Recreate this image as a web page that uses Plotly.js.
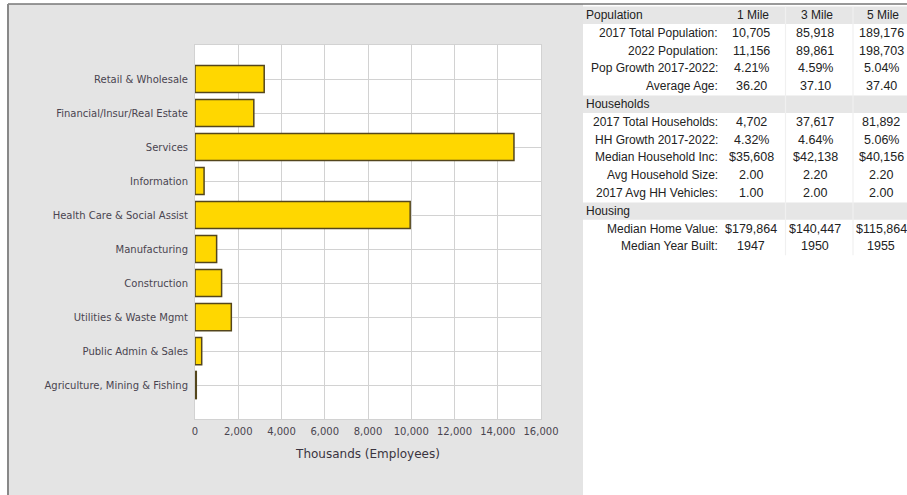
<!DOCTYPE html>
<html>
<head>
<meta charset="utf-8">
<script src="https://cdn.plot.ly/plotly-3.0.1.min.js"></script>
<style>html,body{margin:0;padding:0;background:#fff;}#chart{width:907px;height:495px;}</style>
</head>
<body>
<div id="chart"></div>
<script>
// ---- Bar chart data ----
const industries = [
  "Retail & Wholesale",
  "Financial/Insur/Real Estate",
  "Services",
  "Information",
  "Health Care & Social Assist",
  "Manufacturing",
  "Construction",
  "Utilities & Waste Mgmt",
  "Public Admin & Sales",
  "Agriculture, Mining & Fishing"
];
const employees = [3200, 2720, 14750, 420, 9950, 1000, 1230, 1680, 310, 60];
const xTickValues = [0, 2000, 4000, 6000, 8000, 10000, 12000, 14000, 16000];
const xAxisTitle = "Thousands (Employees)";

// ---- Table data ----
const tableHeaders = ["1 Mile", "3 Mile", "5 Mile"];
const tableLabels = [
  "Population",
  "2017 Total Population:",
  "2022 Population:",
  "Pop Growth 2017-2022:",
  "Average Age:",
  "Households",
  "2017 Total Households:",
  "HH Growth 2017-2022:",
  "Median Household Inc:",
  "Avg Household Size:",
  "2017 Avg HH Vehicles:",
  "Housing",
  "Median Home Value:",
  "Median Year Built:"
];
const isSection = [true,false,false,false,false,true,false,false,false,false,false,true,false,false];
const mile1 = ["", "10,705", "11,156", "4.21%", "36.20", "", "4,702", "4.32%", "$35,608", "2.00", "1.00", "", "$179,864", "1947"];
const mile3 = ["", "85,918", "89,861", "4.59%", "37.10", "", "37,617", "4.64%", "$42,138", "2.20", "2.00", "", "$140,447", "1950"];
const mile5 = ["", "189,176", "198,703", "5.04%", "37.40", "", "81,892", "5.06%", "$40,156", "2.20", "2.00", "", "$115,864", "1955"];

// ---- Layout geometry ----
const W = 907, H = 495;
const M = {l: 195, r: 366, t: 45, b: 76};
const PW = W - M.l - M.r, PH = H - M.t - M.b;
const px = x => (x - M.l) / PW;
const py = y => (H - M.b - y) / PH;

const shapes = [];
const annotations = [];

// outer white strips + table area (paper bg is the gray panel)
shapes.push({type:'rect', xref:'paper', yref:'paper', x0:px(0), x1:px(8), y0:py(H), y1:py(0), fillcolor:'#ffffff', line:{width:0}, layer:'below'});
shapes.push({type:'rect', xref:'paper', yref:'paper', x0:px(0), x1:px(W), y0:py(4), y1:py(0), fillcolor:'#ffffff', line:{width:0}, layer:'below'});
shapes.push({type:'rect', xref:'paper', yref:'paper', x0:px(583), x1:px(W), y0:py(H), y1:py(4), fillcolor:'#ffffff', line:{width:0}, layer:'below'});

// table rows
const rowPitch = 17.8, firstCenter = 15;
const colDividers = [785.5, 853];
const valCenters = [751, 815, 881];
const hdrCenters = [753, 817, 883];
const tfont = {family: "Liberation Sans, Arial, sans-serif", size: 12, color: "#222"};
const vfont = {family: "Liberation Sans, Arial, sans-serif", size: 12.5, color: "#222"};
const lastBottom = firstCenter + rowPitch * (tableLabels.length - 1) + rowPitch / 2;

tableLabels.forEach((lab, i) => {
  const cy = firstCenter + rowPitch * i;
  if (isSection[i]) {
    shapes.push({type:'rect', xref:'paper', yref:'paper', x0:px(583), x1:px(W), y0:py(cy + rowPitch/2), y1:py(cy - rowPitch/2 + 0.5), fillcolor:'#e6e6e6', line:{width:0}, layer:'below'});
    annotations.push({xref:'paper', yref:'paper', x:px(584), y:py(cy), xanchor:'left', yanchor:'middle', text:lab, showarrow:false, font:tfont});
  } else {
    annotations.push({xref:'paper', yref:'paper', x:px(720), y:py(cy), xanchor:'right', yanchor:'middle', text:lab, showarrow:false, font:tfont});
  }
  [mile1, mile3, mile5].forEach((col, j) => {
    if (col[i] !== "") {
      annotations.push({xref:'paper', yref:'paper', x:px(valCenters[j]), y:py(cy), xanchor:'center', yanchor:'middle', text:col[i], showarrow:false, font:vfont});
    }
  });
});
tableHeaders.forEach((h, j) => {
  annotations.push({xref:'paper', yref:'paper', x:px(hdrCenters[j]), y:py(firstCenter), xanchor:'center', yanchor:'middle', text:h, showarrow:false, font:tfont});
});
// column dividers
colDividers.forEach(x => {
  shapes.push({type:'line', xref:'paper', yref:'paper', x0:px(x), x1:px(x), y0:py(firstCenter - rowPitch/2 + 0.5), y1:py(lastBottom), line:{color:'#f0f0f0', width:1.2}, layer:'above'});
});

// borders
shapes.push({type:'line', xref:'paper', yref:'paper', x0:px(8), x1:px(W), y0:py(4), y1:py(4), line:{color:'#777', width:1.5}});
shapes.push({type:'line', xref:'paper', yref:'paper', x0:px(8), x1:px(8), y0:py(4), y1:py(H), line:{color:'#888', width:2}});

const trace = {
  type: 'bar',
  orientation: 'h',
  y: industries,
  x: employees,
  width: 0.8,
  marker: {color: '#FFD700', line: {color: '#54461c', width: 1.5}},
  hoverinfo: 'x+y'
};

const axFont = {family: "DejaVu Sans, Verdana, sans-serif", size: 10, color: "#4a4450"};

const layout = {
  width: W, height: H,
  margin: M,
  paper_bgcolor: '#e4e4e4',
  plot_bgcolor: '#ffffff',
  showlegend: false,
  bargap: 0.2,
  xaxis: {
    range: [0, 16000],
    tickvals: xTickValues,
    tickformat: ',',
    gridcolor: '#d2d2d2',
    gridwidth: 1,
    zeroline: false,
    showline: true, linecolor: '#d2d2d2', mirror: true,
    ticks: 'outside', ticklen: 3, tickcolor: 'rgba(0,0,0,0)',
    tickfont: axFont,
    title: {text: xAxisTitle, font: {family: "DejaVu Sans, Verdana, sans-serif", size: 12, color: "#3a3440"}, standoff: 13},
    fixedrange: true
  },
  yaxis: {
    type: 'category',
    range: [9.999, -1],
    gridcolor: '#d2d2d2',
    showline: true, linecolor: '#d2d2d2', mirror: true,
    zeroline: false,
    ticks: 'outside', ticklen: 4, tickcolor: 'rgba(0,0,0,0)',
    tickfont: axFont,
    fixedrange: true
  },
  shapes: shapes,
  annotations: annotations
};

Plotly.newPlot('chart', [trace], layout, {displayModeBar: false, staticPlot: true});
</script>
</body>
</html>
